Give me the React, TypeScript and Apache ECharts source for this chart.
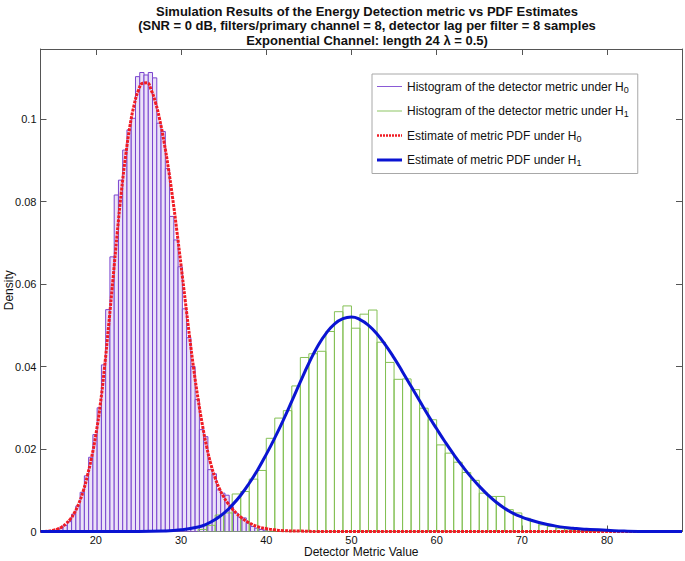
import React, { useEffect, useRef } from 'react';
import * as echarts from 'echarts';

// ---- Data ----
const h0BinWidth = 0.5;
const h0Centers = [
  15.4, 15.9, 16.4, 16.9, 17.4, 17.9, 18.4, 18.9, 19.4, 19.9,
  20.4, 20.9, 21.4, 21.9, 22.4, 22.9, 23.4, 23.9, 24.4, 24.9,
  25.4, 25.9, 26.4, 26.9, 27.4, 27.9, 28.4, 28.9, 29.4, 29.9,
  30.4, 30.9, 31.4, 31.9, 32.4, 32.9, 33.4, 33.9, 34.4, 34.9,
  35.4, 35.9, 36.4, 36.9, 37.4, 37.9, 38.4, 38.9, 39.4, 39.9,
];
const h0Density = [
  0.0003, 0.0008, 0.0015, 0.0024, 0.0042, 0.0062, 0.0095, 0.0135, 0.018, 0.0235,
  0.03, 0.0404, 0.0538, 0.0666, 0.0816, 0.0852, 0.0925, 0.0974, 0.1002, 0.1103,
  0.1113, 0.1107, 0.1113, 0.11, 0.099, 0.097, 0.088, 0.0764, 0.0707, 0.0642,
  0.054, 0.047, 0.04, 0.032, 0.0247, 0.023, 0.015, 0.014, 0.0101, 0.0093,
  0.0088, 0.006, 0.0045, 0.0035, 0.0033, 0.002, 0.0012, 0.0008, 0.0005, 0.0003,
];

const h1BinWidth = 1;
const h1Centers = [
  32.5, 33.5, 34.5, 35.5, 36.5, 37.5, 38.5, 39.5, 40.5, 41.5,
  42.5, 43.5, 44.5, 45.5, 46.5, 47.5, 48.5, 49.5, 50.5, 51.5,
  52.5, 53.5, 54.5, 55.5, 56.5, 57.5, 58.5, 59.5, 60.5, 61.5,
  62.5, 63.5, 64.5, 65.5, 66.5, 67.5, 68.5, 69.5, 70.5, 71.5,
  72.5, 73.5, 74.5, 75.5, 76.5, 77.5, 78.5, 79.5,
];
const h1Density = [
  0.0005, 0.0015, 0.004, 0.0045, 0.0091, 0.0097, 0.0127, 0.0148, 0.0226, 0.0275,
  0.0293, 0.0353, 0.0422, 0.0431, 0.0437, 0.0485, 0.0533, 0.0547, 0.0493, 0.0527,
  0.0537, 0.0459, 0.041, 0.0369, 0.037, 0.0344, 0.0299, 0.0271, 0.021, 0.019,
  0.0168, 0.0143, 0.0124, 0.0093, 0.0085, 0.0085, 0.0053, 0.0045, 0.0032, 0.0024,
  0.0016, 0.0012, 0.0008, 0.0006, 0.0004, 0.0003, 0.0002, 0.0001,
];

const pdf0X = [
  13.5, 14.5, 15, 15.5, 16, 16.5, 17, 17.5, 18, 18.5, 19, 19.5, 20, 20.5, 21, 21.5,
  22, 22.5, 23, 23.5, 24, 24.5, 25, 25.5, 26, 26.5, 27, 27.5, 28, 28.5, 29, 29.5,
  30, 30.5, 31, 31.5, 32, 32.5, 33, 33.5, 34, 34.5, 35, 35.5, 36, 36.5, 37, 38,
  39, 40, 41, 42, 44, 46, 88.8,
];
const pdf0Y = [
  0, 0.0001, 0.0003, 0.0006, 0.0011, 0.0019, 0.003, 0.0046, 0.0068, 0.0097, 0.0135, 0.018, 0.0235, 0.0305, 0.0395, 0.05,
  0.061, 0.0722, 0.0825, 0.0912, 0.0983, 0.1035, 0.107, 0.1087, 0.1088, 0.107, 0.104, 0.0998, 0.0945, 0.0882, 0.081, 0.073,
  0.0645, 0.0558, 0.0472, 0.0392, 0.0321, 0.0259, 0.0206, 0.0163, 0.013, 0.0104, 0.0084, 0.0068, 0.0055, 0.0044, 0.0035, 0.0021,
  0.0012, 0.0007, 0.0004, 0.0002, 0.0001, 0, 0,
];

const pdf1X = [
  13.5, 25, 28, 30, 32, 33, 34, 35, 36, 37, 38, 39, 40, 41, 42, 43, 44, 45, 46, 47,
  48, 49, 50, 51, 52, 53, 54, 55, 56, 57, 58, 59, 60, 61, 62, 63, 64, 65, 66, 67,
  68, 69, 70, 71, 72, 73, 74, 75, 76, 77, 78, 80, 82, 85, 88.8,
];
const pdf1Y = [
  0, 0, 0.0001, 0.0004, 0.0011, 0.0018, 0.0029, 0.0044, 0.0064, 0.0088, 0.0117, 0.015, 0.0187, 0.0227, 0.027, 0.0316, 0.0363, 0.0408, 0.0448, 0.048,
  0.0503, 0.0516, 0.052, 0.0514, 0.05, 0.0479, 0.0452, 0.0421, 0.0387, 0.0352, 0.0317, 0.0282, 0.0249, 0.0217, 0.0187, 0.0159, 0.0133, 0.011, 0.0089, 0.0071,
  0.0056, 0.0044, 0.0035, 0.0028, 0.0022, 0.0017, 0.0013, 0.001, 0.0008, 0.0006, 0.0005, 0.0003, 0.0001, 0, 0,
];

const seriesNames = [
  'Histogram of the detector metric under H0',
  'Histogram of the detector metric under H1',
  'Estimate of metric PDF under H0',
  'Estimate of metric PDF under H1',
];

const titleLines = [
  'Simulation Results of the Energy Detection metric vs PDF Estimates',
  '(SNR = 0 dB, filters/primary channel = 8, detector lag per filter = 8 samples',
  'Exponential Channel: length 24 \u03bb = 0.5)',
];

const FONT = 'Liberation Sans, Arial, Helvetica, sans-serif';

export default function App() {
  const ref = useRef<HTMLDivElement>(null);

  useEffect(() => {
    const chart = echarts.init(ref.current!, null, { renderer: 'svg' });

    const histRender = (fill: string, stroke: string) => (params: any, api: any) => {
      const x0 = api.value(0);
      const x1 = api.value(1);
      const h = api.value(2);
      const p0 = api.coord([x0, h]);
      const p1 = api.coord([x1, 0]);
      return {
        type: 'rect',
        shape: { x: p0[0], y: p0[1], width: p1[0] - p0[0], height: p1[1] - p0[1] },
        style: { fill, stroke, lineWidth: 1 },
      };
    };

    const h0Data = h0Centers.map((c, i) => [c - h0BinWidth / 2, c + h0BinWidth / 2, h0Density[i]]);
    const h1Data = h1Centers.map((c, i) => [c - h1BinWidth / 2, c + h1BinWidth / 2, h1Density[i]]);
    const pdf0 = pdf0X.map((x, i) => [x, pdf0Y[i]]);
    const pdf1 = pdf1X.map((x, i) => [x, pdf1Y[i]]);

    const axisColor = '#555';
    const xCommon = {
      type: 'value' as const,
      min: 13.5,
      max: 88.8,
      splitNumber: 8,
      splitLine: { show: false },
      axisLine: { show: true, onZero: false, lineStyle: { color: axisColor, width: 1 } },
      axisTick: { show: true, inside: true, length: 6, lineStyle: { color: axisColor } },
    };
    const yCommon = {
      type: 'value' as const,
      min: 0,
      max: 0.117,
      interval: 0.02,
      splitLine: { show: false },
      axisLine: { show: true, onZero: false, lineStyle: { color: axisColor, width: 1 } },
      axisTick: { show: true, inside: true, length: 6, lineStyle: { color: axisColor } },
    };

    const thinIcon = 'path://M0 0H25V1H0Z';
    const dottedIcon =
      'path://M0 0H2V2.6H0Z M3 0H5V2.6H3Z M6 0H8V2.6H6Z M9 0H11V2.6H9Z M12 0H14V2.6H12Z M15 0H17V2.6H15Z M18 0H20V2.6H18Z M21 0H23V2.6H21Z M24 0H25V2.6H24Z';
    const thickIcon = 'path://M0 0H25V3H0Z';

    chart.setOption({
      animation: false,
      backgroundColor: '#fff',
      title: {
        text: titleLines.join('\n'),
        left: 362,
        top: -1,
        textAlign: 'center',
        textStyle: { fontFamily: FONT, fontSize: 13, fontWeight: 'bold', color: '#111', lineHeight: 14.5 },
      },
      grid: { left: 40.5, right: 3, top: 49, bottom: 29.5, containLabel: false, outerBoundsMode: 'none' },
      legend: {
        orient: 'vertical',
        left: 372,
        top: 74,
        padding: [5, 9, 6, 5],
        itemGap: 9.5,
        itemWidth: 25,
        itemHeight: 14,
        itemTextGap: 4,
        backgroundColor: '#fff',
        borderColor: '#a8a8a8',
        borderWidth: 1,
        borderRadius: 0,
        data: [
          { name: seriesNames[0], icon: thinIcon },
          { name: seriesNames[1], icon: thinIcon },
          { name: seriesNames[2], icon: dottedIcon },
          { name: seriesNames[3], icon: thickIcon },
        ],
        formatter: (name: string) => {
          const m = name.match(/^(.*H)([01])$/);
          return m ? `{a|${m[1]}}{s|${m[2]}}` : name;
        },
        textStyle: {
          fontFamily: FONT,
          fontSize: 12,
          color: '#111',
          rich: {
            a: { fontFamily: FONT, fontSize: 12, lineHeight: 14, color: '#111' },
            s: { fontFamily: FONT, fontSize: 9, lineHeight: 8, padding: [6, 0, 0, 0], color: '#111' },
          },
        },
      },
      xAxis: [
        {
          ...xCommon,
          position: 'bottom',
          name: 'Detector Metric Value',
          nameLocation: 'middle',
          nameGap: 14,
          nameMoveOverlap: false,
          nameTextStyle: { fontFamily: FONT, fontSize: 12, color: '#111' },
          axisLabel: {
            show: true,
            margin: 3,
            fontFamily: FONT,
            fontSize: 11,
            color: '#111',
            showMinLabel: false,
            showMaxLabel: false,
          },
        },
        {
          ...xCommon,
          position: 'top',
          axisLabel: { show: false },
        },
      ],
      yAxis: [
        {
          ...yCommon,
          position: 'left',
          name: 'Density',
          nameLocation: 'middle',
          nameGap: 26,
          nameMoveOverlap: false,
          nameTextStyle: { fontFamily: FONT, fontSize: 12, color: '#111' },
          axisLabel: {
            show: true,
            margin: 4,
            fontFamily: FONT,
            fontSize: 11,
            color: '#111',
            showMaxLabel: false,
          },
        },
        {
          ...yCommon,
          position: 'right',
          axisLabel: { show: false },
        },
      ],
      series: [
        {
          name: seriesNames[0],
          type: 'custom',
          xAxisIndex: 0,
          yAxisIndex: 0,
          clip: true,
          itemStyle: { color: '#8a5ad6' },
          encode: { x: [0, 1], y: 2 },
          renderItem: histRender('#ebe2f8', '#7a45cf'),
          data: h0Data,
          z: 1,
        },
        {
          name: seriesNames[1],
          type: 'custom',
          xAxisIndex: 0,
          yAxisIndex: 0,
          clip: true,
          itemStyle: { color: '#8cc463' },
          encode: { x: [0, 1], y: 2 },
          renderItem: histRender('rgba(255,255,255,0)', '#84c055'),
          data: h1Data,
          z: 2,
        },
        {
          name: seriesNames[2],
          type: 'line',
          xAxisIndex: 0,
          yAxisIndex: 0,
          data: pdf0,
          smooth: 0.5,
          symbol: 'none',
          showSymbol: false,
          clip: true,
          lineStyle: { color: '#f01c24', width: 3, type: [3, 1] },
          itemStyle: { color: '#f01c24' },
          z: 3,
        },
        {
          name: seriesNames[3],
          type: 'line',
          xAxisIndex: 0,
          yAxisIndex: 0,
          data: pdf1,
          smooth: 0.5,
          symbol: 'none',
          showSymbol: false,
          clip: true,
          lineStyle: { color: '#0a14d2', width: 3 },
          itemStyle: { color: '#0a14d2' },
          z: 4,
        },
      ],
    });

    return () => {
      chart.dispose();
    };
  }, []);

  return (
    <div
      ref={ref}
      style={{ position: 'fixed', left: 0, top: 0, width: 685, height: 561, background: '#fff' }}
    />
  );
}
